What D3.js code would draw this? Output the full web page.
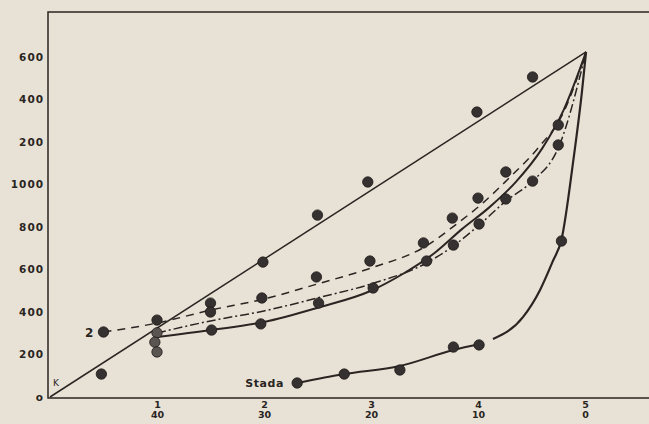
<!DOCTYPE html>
<html><head><meta charset="utf-8">
<script src="https://cdn.jsdelivr.net/npm/d3@7"></script>
<style>body{margin:0;background:#e8e2d6;} svg{display:block}</style>
</head><body><svg id="c" width="649" height="424"></svg>
<script>
// ---- data (x in scale units 0..5, y in value units) ----
const yTickValues = [0, 200, 400, 600, 800, 1000, 1200, 1400, 1600];
const yTickLabels = ["o", "200", "400", "600", "800", "1000", "200", "400", "600"];
const xTickValues = [1, 2, 3, 4, 5];
const xTickTop = ["1", "2", "3", "4", "5"];
const xTickBottom = ["40", "30", "20", "10", "0"];

const lineK = [[0, 0], [5.01, 1624]];
const dotsK = [[1.0, 362], [1.99, 635], [2.5, 856], [2.97, 1012], [3.99, 1341], [4.51, 1506]];

const curveDashed = [[0.5, 306], [1.0, 348], [1.5, 409], [2.0, 461], [2.5, 532], [3.0, 607], [3.5, 706], [3.8, 814], [4.05, 915], [4.3, 1035], [4.55, 1165], [4.8, 1340], [5.01, 1624]];
const curveSolid = [[1.0, 282], [1.5, 315], [2.0, 353], [2.5, 420], [3.0, 500], [3.3, 580], [3.6, 680], [3.85, 790], [4.1, 890], [4.35, 1010], [4.6, 1170], [4.8, 1350], [5.01, 1624]];
const curveDashDot = [[1.0, 301], [1.5, 358], [2.0, 405], [2.5, 466], [3.0, 532], [3.5, 626], [3.77, 711], [4.01, 809], [4.26, 922], [4.51, 1016], [4.75, 1172], [5.01, 1624]];
const curveStadaA = [[2.31, 66], [2.75, 108], [3.27, 146], [3.77, 221], [4.02, 249]];
const curveStadaB = [[4.14, 273], [4.42, 376], [4.58, 504], [4.70, 640], [4.78, 740], [4.89, 1110], [4.97, 1430], [5.01, 1624]];

const dotsUpper = [[0.5, 306], [1.5, 442], [1.98, 466], [2.49, 565], [2.99, 640], [3.49, 725], [3.76, 842], [4.0, 936], [4.26, 1059], [4.75, 1280]];
const dotsLower = [[1.5, 400], [1.51, 315], [1.97, 344], [2.51, 442], [3.02, 513], [3.52, 640], [3.77, 715], [4.01, 814], [4.26, 932], [4.51, 1016], [4.75, 1186]];
const dotsCluster = [[1.0, 302], [0.98, 258], [1.0, 212]];
const dotsStada = [[2.31, 66], [2.75, 108], [3.27, 127], [3.77, 235], [4.01, 245], [4.78, 734]];
const dotsOther = [[0.48, 108]];

// ---- drawing ----
const ink = "#2a2522";
const svg = d3.select("#c");
svg.append("rect").attr("width", 649).attr("height", 424).attr("fill", "#e8e2d6");

const x = d3.scaleLinear().domain([0, 5]).range([50, 585]);
const y = d3.scaleLinear().domain([0, 1600]).range([397, 57]);

// frame
const fLeft = 48, fTop = 12, fBottom = 398, fRight = 649;
svg.append("path").attr("d", `M${fRight},${fTop}H${fLeft}V${fBottom}H${fRight}`)
  .attr("fill", "none").attr("stroke", ink).attr("stroke-width", 1.5);

// y axis
const yAxis = svg.append("g").attr("transform", `translate(${fLeft},0)`)
  .call(d3.axisLeft(y).tickValues(yTickValues).tickFormat((d, i) => yTickLabels[i]).tickSize(0).tickPadding(4));
yAxis.select(".domain").remove();
yAxis.selectAll("text").attr("font-family", "DejaVu Sans").attr("font-weight", "bold")
  .attr("font-size", 10.5).attr("letter-spacing", 1).attr("fill", ink);

// x axis
const xAxis = svg.append("g").attr("transform", `translate(0,${fBottom})`)
  .call(d3.axisBottom(x).tickValues(xTickValues).tickFormat((d, i) => xTickTop[i]).tickSize(0).tickPadding(3));
xAxis.select(".domain").remove();
xAxis.selectAll("text").attr("font-family", "DejaVu Sans").attr("font-weight", "bold")
  .attr("font-size", 9.5).attr("fill", ink);
xAxis.selectAll(".tick").append("text")
  .attr("y", 20).attr("fill", ink).attr("text-anchor", "middle")
  .attr("font-family", "DejaVu Sans").attr("font-weight", "bold").attr("font-size", 9.5)
  .text((d, i) => xTickBottom[i]);

// lines
const lineGen = d3.line().x(d => x(d[0])).y(d => y(d[1]));
const curveGen = d3.line().x(d => x(d[0])).y(d => y(d[1])).curve(d3.curveMonotoneX);

svg.append("path").attr("d", lineGen(lineK)).attr("fill", "none").attr("stroke", ink).attr("stroke-width", 1.5);
svg.append("path").attr("d", curveGen(curveDashed)).attr("fill", "none").attr("stroke", ink)
  .attr("stroke-width", 1.5).attr("stroke-dasharray", "8,6");
svg.append("path").attr("d", curveGen(curveSolid)).attr("fill", "none").attr("stroke", ink).attr("stroke-width", 2);
svg.append("path").attr("d", curveGen(curveDashDot)).attr("fill", "none").attr("stroke", ink)
  .attr("stroke-width", 1.5).attr("stroke-dasharray", "9,3,2,3");
svg.append("path").attr("d", curveGen(curveStadaA)).attr("fill", "none").attr("stroke", ink).attr("stroke-width", 2);
svg.append("path").attr("d", curveGen(curveStadaB)).attr("fill", "none").attr("stroke", ink).attr("stroke-width", 2.2);

// dots
const allDots = [dotsK, dotsUpper, dotsLower, dotsCluster, dotsStada, dotsOther];
allDots.forEach((arr, k) => {
  svg.append("g").selectAll("circle").data(arr).join("circle")
    .attr("cx", d => x(d[0])).attr("cy", d => y(d[1])).attr("r", 5.2)
    .attr("fill", k === 3 ? "#5a5550" : "#353130").attr("stroke", "#1f1b19").attr("stroke-width", 0.8);
});

// annotations
const txt = (t, px, py, size, weight) => svg.append("text").attr("x", px).attr("y", py)
  .attr("font-family", "DejaVu Sans").attr("font-weight", weight).attr("font-size", size).attr("fill", ink).text(t);
txt("K", 53, 386, 9, "normal");
txt("2", 85, 337, 12, "bold");
txt("Stada", x(2.31) - 52, y(66) + 4, 11, "bold").attr("letter-spacing", 0.6);
</script></body></html>
